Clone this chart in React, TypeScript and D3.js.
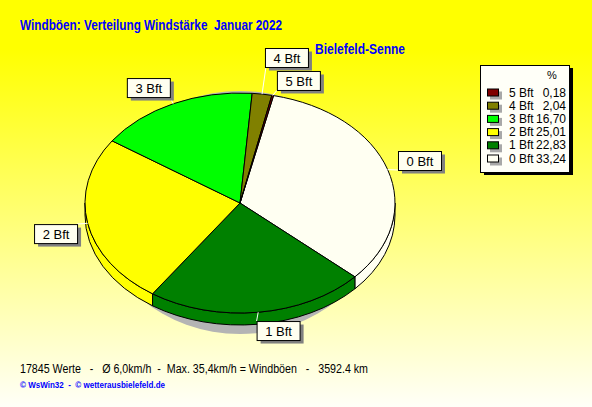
import React from "react";
import * as d3 from "d3";

// ---- data ----
const categories = ["0 Bft", "1 Bft", "2 Bft", "3 Bft", "4 Bft", "5 Bft"];
const percents = [33.24, 22.83, 25.01, 16.7, 2.04, 0.18];
const sliceColors = ["#FFFFF2", "#008000", "#FFFF00", "#00FF00", "#808000", "#800000"];
const legendOrder = ["5 Bft", "4 Bft", "3 Bft", "2 Bft", "1 Bft", "0 Bft"];
const titleText = "Windböen: Verteilung Windstärke  Januar 2022";
const stationText = "Bielefeld-Senne";
const footerText = "17845 Werte   -   Ø 6,0km/h  -  Max. 35,4km/h = Windböen   -   3592.4 km";
const creditText = "© WsWin32  -  © wetterausbielefeld.de";

// ---- layout ----
const W = 592, H = 407;
const cx = 240, cy = 203, rx = 155, ry = 110, depth = 12;
const startDeg = 12.5;
// label box offsets relative to slice anchor: [boxDx, boxDy, leaderDx, leaderDy]
const labelLayout: Record<string, number[]> = {
  "0 Bft": [10.3, -18.6, 10.3, 0.4],
  "1 Bft": [-1.6, 8.8, -1.6, 8.8],
  "2 Bft": [-53.6, 0.8, -10.6, 0.8],
  "3 Bft": [-46.3, -25.7, -3.3, -6.7],
  "4 Bft": [2.9, -46.1, 3.9, -27.1],
  "5 Bft": [4.2, -24.5, 6.2, -7.5],
};
const boxW = 43, boxH = 19;

const fmt = d3.formatLocale({ decimal: ",", thousands: ".", grouping: [3], currency: ["", "€"] }).format(".2f");

function P(t: number, dy = 0): [number, number] {
  return [cx + rx * Math.sin(t), cy - ry * Math.cos(t) + dy];
}

export default function App() {
  const pie = d3
    .pie<number>()
    .sort(null)
    .value((d) => d)
    .startAngle((startDeg * Math.PI) / 180)
    .endAngle((startDeg * Math.PI) / 180 + 2 * Math.PI);
  const arcs = pie(percents);

  const topPath = (a0: number, a1: number) => {
    const p0 = P(a0), p1 = P(a1);
    const large = a1 - a0 > Math.PI ? 1 : 0;
    return `M${cx},${cy}L${p0[0]},${p0[1]}A${rx},${ry} 0 ${large} 1 ${p1[0]},${p1[1]}Z`;
  };
  const sidePath = (a0: number, a1: number) => {
    const s = Math.max(a0, Math.PI / 2), e = Math.min(a1, (3 * Math.PI) / 2);
    if (e <= s) return null;
    const p0 = P(s), p1 = P(e), q1 = P(e, depth), q0 = P(s, depth);
    return `M${p0[0]},${p0[1]}A${rx},${ry} 0 0 1 ${p1[0]},${p1[1]}L${q1[0]},${q1[1]}A${rx},${ry} 0 0 0 ${q0[0]},${q0[1]}Z`;
  };

  const legX = 480, legY = 65, legW = 89, legH = 107;
  const rowY = d3.scaleLinear().domain([0, 5]).range([92.5, 158.5]);

  return (
    <svg width={W} height={H} style={{ position: "absolute", left: 0, top: 0, fontFamily: "'Liberation Sans', Arial, sans-serif" }}>
      <defs>
        <linearGradient id="bg" x1="0" y1="0" x2="0" y2="1">
          <stop offset="0" stopColor="#FFFF00" />
          <stop offset="0.12" stopColor="#FFFF00" />
          <stop offset="1" stopColor="#FFFFF8" />
        </linearGradient>
      </defs>
      <rect x={0} y={0} width={W} height={H} fill="url(#bg)" />

      {/* title */}
      <text x={20} y={30} fill="#0000FF" fontWeight="bold" fontSize={14} textLength={262} lengthAdjust="spacingAndGlyphs" style={{ whiteSpace: "pre" }}>
        {titleText}
      </text>
      <text x={315} y={54} fill="#0000FF" fontWeight="bold" fontSize={14} textLength={90} lengthAdjust="spacingAndGlyphs">
        {stationText}
      </text>

      {/* pie shadow */}
      <ellipse cx={cx} cy={212.5} rx={140} ry={121.5} fill="#B4B4B4" />

      {/* side walls */}
      {arcs.map((a, i) => {
        const d = sidePath(a.startAngle, a.endAngle);
        return d ? <path key={"s" + i} d={d} fill={sliceColors[i]} stroke="#000" strokeWidth={1} strokeLinejoin="round" /> : null;
      })}
      {/* top faces */}
      {arcs.map((a, i) => (
        <path key={"t" + i} d={topPath(a.startAngle, a.endAngle)} fill={sliceColors[i]} stroke="#000" strokeWidth={1} strokeLinejoin="round" />
      ))}

      {/* labels */}
      {arcs.map((a, i) => {
        const mid = (a.startAngle + a.endAngle) / 2;
        const [ax, ay] = P(mid);
        const [bdx, bdy, ldx, ldy] = labelLayout[categories[i]];
        const bx = ax + bdx, by = ay + bdy;
        return (
          <g key={"l" + i}>
            <line x1={ax} y1={ay} x2={ax + ldx} y2={ay + ldy} stroke="#FFFFFF" strokeWidth={1} />
            <rect x={bx + 4} y={by + 3.5} width={boxW} height={boxH} fill="#808080" />
            <rect x={bx + 0.5} y={by + 0.5} width={boxW} height={boxH} fill="#FFFFF0" stroke="#000" strokeWidth={1} />
            <text x={bx + boxW / 2 + 0.5} y={by + 15} textAnchor="middle" fontSize={13} fill="#000">
              {categories[i]}
            </text>
          </g>
        );
      })}

      {/* legend */}
      <rect x={legX + 4} y={legY + 3} width={legW} height={legH} fill="#000" />
      <rect x={legX + 0.5} y={legY + 0.5} width={legW} height={legH} fill="#FFFFF8" stroke="#000" strokeWidth={1} />
      <text x={552} y={79} textAnchor="middle" fontSize={11} fill="#000">%</text>
      {legendOrder.map((c, j) => {
        const i = categories.indexOf(c);
        const y = rowY(j);
        return (
          <g key={"lg" + c}>
            <rect x={490} y={y - 1} width={12} height={8} fill="#A8A8A8" />
            <rect x={487.5} y={y - 3.5} width={11} height={7} fill={sliceColors[i]} stroke="#000" strokeWidth={1} />
            <text x={509} y={y + 4} fontSize={12} fill="#000">{c}</text>
            <text x={566} y={y + 4} fontSize={12} fill="#000" textAnchor="end">{fmt(percents[i])}</text>
          </g>
        );
      })}

      {/* footer */}
      <text x={20} y={373} fontSize={12} fill="#000" textLength={348} lengthAdjust="spacingAndGlyphs" style={{ whiteSpace: "pre" }}>
        {footerText}
      </text>
      <text x={20} y={388} fontSize={9} fontWeight="bold" fill="#0000FF" textLength={145} lengthAdjust="spacingAndGlyphs" style={{ whiteSpace: "pre" }}>
        {creditText}
      </text>
    </svg>
  );
}
